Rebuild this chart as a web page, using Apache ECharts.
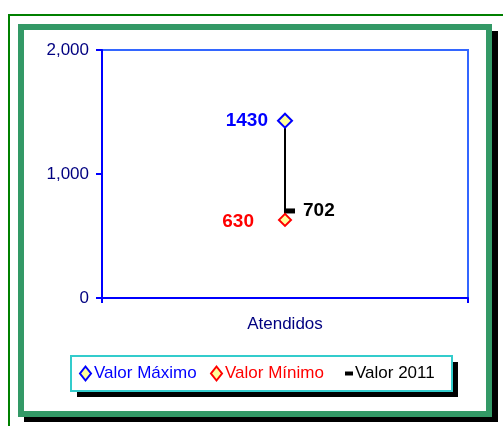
<!DOCTYPE html>
<html>
<head>
<meta charset="utf-8">
<script src="https://cdn.jsdelivr.net/npm/echarts@6/dist/echarts.min.js"></script>
<style>
  html, body { margin: 0; padding: 0; background: #fff; }
  #chart { width: 503px; height: 426px; }
</style>
</head>
<body>
<div id="chart"></div>
<script>
var categories = ['Atendidos'];
var maxValues = [1430];
var minValues = [630];
var values2011 = [702];
var yMin = 0, yMax = 2000, yStep = 1000;

var font = '"Liberation Sans", Arial, sans-serif';
var diamondFill = '#FFFF99';

var chart = echarts.init(document.getElementById('chart'), null, { renderer: 'canvas' });

var option = {
  animation: false,
  backgroundColor: '#fff',
  textStyle: { fontFamily: font },
  graphic: [
    // borde exterior fino
    { type: 'rect', z: -20, shape: { x: 9, y: 15, width: 520, height: 440 },
      style: { fill: null, stroke: '#008000', lineWidth: 2 } },
    // sombra del marco
    { type: 'rect', z: -19, shape: { x: 24, y: 31, width: 474, height: 391 },
      style: { fill: '#000' } },
    // marco verde
    { type: 'rect', z: -18, shape: { x: 21, y: 27, width: 468, height: 387 },
      style: { fill: '#fff', stroke: '#339966', lineWidth: 6 } },
    // caja de la leyenda
    { type: 'rect', z: -17, shape: { x: 77, y: 362, width: 381, height: 35 },
      style: { fill: '#000' } },
    { type: 'rect', z: -16, shape: { x: 71, y: 356, width: 381, height: 35 },
      style: { fill: '#fff', stroke: '#33CCCC', lineWidth: 2 } }
  ],
  legend: [
    { left: 74, top: 360, itemWidth: 11, itemHeight: 14, icon: 'diamond',
      data: [{ name: 'Valor Máximo', textStyle: { color: '#0000FF' } }],
      textStyle: { fontSize: 17, fontFamily: font, padding: [0, 0, 0, -2] } },
    { left: 205, top: 360, itemWidth: 11, itemHeight: 14, icon: 'diamond',
      data: [{ name: 'Valor Mínimo', textStyle: { color: '#FF0000' } }],
      textStyle: { fontSize: 17, fontFamily: font, padding: [0, 0, 0, -2] } },
    { left: 340, top: 360, itemWidth: 8, itemHeight: 14, icon: 'path://M0,5H8V9H0Z',
      data: [{ name: 'Valor 2011', textStyle: { color: '#000' } }],
      textStyle: { fontSize: 17, fontFamily: font, padding: [0, 0, 0, -3] } }
  ],
  grid: {
    left: 102, top: 50, right: 35, bottom: 128,
    show: true, borderColor: '#3366FF', borderWidth: 2, backgroundColor: 'transparent'
  },
  xAxis: {
    type: 'category',
    data: categories,
    boundaryGap: true,
    axisLine: { lineStyle: { color: '#0000FF', width: 2 } },
    axisTick: { show: true, length: 5, lineStyle: { color: '#0000FF', width: 2 } },
    axisLabel: { color: '#000080', fontSize: 17, margin: 18, fontFamily: font }
  },
  yAxis: {
    type: 'value',
    min: yMin, max: yMax, interval: yStep,
    axisLine: { show: true, lineStyle: { color: '#0000FF', width: 2 } },
    axisTick: { show: true, length: 6, lineStyle: { color: '#0000FF', width: 2 } },
    splitLine: { show: false },
    axisLabel: {
      color: '#000080', fontSize: 17, margin: 13, fontFamily: font,
      formatter: function (v) { return v.toLocaleString('en-US'); }
    }
  },
  series: [
    {
      type: 'custom',
      name: 'rango',
      z: 1,
      encode: { x: 0, y: [1, 2] },
      data: categories.map(function (c, i) { return [i, maxValues[i], minValues[i]]; }),
      renderItem: function (params, api) {
        var p1 = api.coord([api.value(0), api.value(1)]);
        var p2 = api.coord([api.value(0), api.value(2)]);
        return {
          type: 'line',
          shape: { x1: p1[0], y1: p1[1], x2: p2[0], y2: p2[1] },
          style: { stroke: '#000', lineWidth: 2 }
        };
      }
    },
    {
      type: 'scatter',
      name: 'Valor 2011',
      z: 3,
      data: values2011,
      symbol: 'rect',
      symbolSize: [10, 5],
      symbolOffset: [5, 0],
      itemStyle: { color: '#000', opacity: 1 },
      label: { show: true, position: 'right', distance: 8, color: '#000',
        fontSize: 19, fontWeight: 'bold', fontFamily: font }
    },
    {
      type: 'scatter',
      name: 'Valor Máximo',
      z: 4,
      data: maxValues,
      symbol: 'diamond',
      symbolSize: 14,
      itemStyle: { color: diamondFill, borderColor: '#0000FF', borderWidth: 2, opacity: 1 },
      label: { show: true, position: 'left', distance: 9, color: '#0000FF',
        fontSize: 19, fontWeight: 'bold', fontFamily: font }
    },
    {
      type: 'scatter',
      name: 'Valor Mínimo',
      z: 4,
      data: minValues,
      symbol: 'diamond',
      symbolSize: 12,
      itemStyle: { color: diamondFill, borderColor: '#FF0000', borderWidth: 2, opacity: 1 },
      label: { show: true, position: 'left', distance: 24, offset: [0, 2], color: '#FF0000',
        fontSize: 19, fontWeight: 'bold', fontFamily: font }
    }
  ]
};

chart.setOption(option);
</script>
</body>
</html>
